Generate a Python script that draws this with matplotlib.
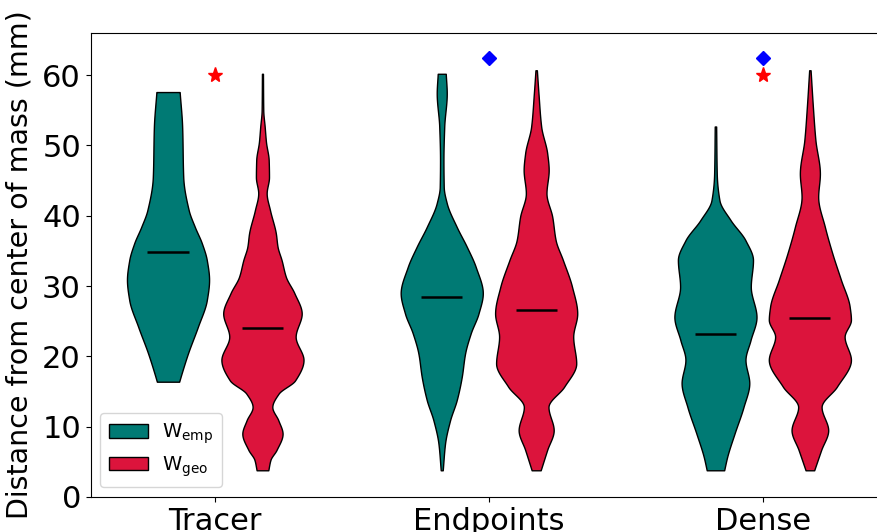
import numpy as np
import matplotlib
matplotlib.use("Agg")
import matplotlib.pyplot as plt
from matplotlib.patches import Patch

categories = ["Tracer", "Endpoints", "Dense"]
series_labels = [r"W$_{\mathrm{emp}}$", r"W$_{\mathrm{geo}}$"]
colors = ["#007a74", "#dc143c"]

# Violin profiles: y value (mm) and relative density
tracer_emp_y = [16.4, 17.6, 20.4, 24.2, 28.0, 30.9, 33.7, 36.1, 38.4, 40.8, 45.5, 52.7, 57.6]
tracer_emp_d = [11.2, 13.7, 20.0, 30.0, 39.0, 41.3, 39.0, 34.0, 27.0, 20.8, 15.3, 14.2, 11.7]
tracer_emp_med = 34.8

tracer_geo_y = [3.8, 5.3, 6.7, 9.0, 10.9, 12.8, 14.7, 16.6, 19.5, 22.8, 26.1, 29.0, 31.3,
                33.7, 35.6, 37.5, 40.8, 43.2, 45.5, 47.9, 50.5, 52.7, 55.0, 60.2]
tracer_geo_d = [5.8, 8.0, 14.0, 20.0, 15.8, 9.8, 16.0, 32.5, 40.8, 33.0, 39.0, 31.7, 23.3,
                19.0, 15.0, 13.3, 7.5, 4.2, 6.5, 6.2, 3.5, 2.2, 0.8, 0.5]
tracer_geo_med = 24.0

endp_emp_y = [3.8, 7.6, 10.9, 13.8, 17.1, 20.4, 23.3, 26.1, 29.0, 32.7, 35.6, 38.4, 41.8,
              44.1, 47.9, 52.7, 57.4, 60.2]
endp_emp_d = [1.0, 3.3, 8.3, 15.0, 20.0, 23.3, 29.0, 36.7, 41.0, 34.0, 25.0, 15.0, 5.0,
              2.0, 1.7, 2.5, 5.0, 4.0]
endp_emp_med = 28.4

endp_geo_y = [3.8, 6.7, 9.5, 12.8, 15.7, 19.0, 22.8, 26.1, 29.9, 33.7, 36.5, 39.9, 43.2,
              46.5, 48.9, 52.7, 57.4, 60.7]
endp_geo_d = [4.5, 11.0, 17.5, 12.3, 28.0, 40.0, 37.0, 41.0, 35.8, 26.7, 19.5, 16.0, 10.3,
              12.5, 11.0, 5.0, 2.3, 0.7]
endp_geo_med = 26.6

dense_emp_y = [3.8, 5.7, 9.0, 12.8, 16.2, 19.5, 22.3, 25.6, 29.9, 33.7, 36.5, 39.4, 42.2,
               46.0, 52.7]
dense_emp_d = [8.7, 11.7, 19.0, 28.0, 33.8, 30.0, 35.0, 41.0, 35.3, 37.5, 30.0, 15.0, 4.0,
               1.3, 0.7]
dense_emp_med = 23.2

dense_geo_y = [3.8, 6.7, 9.5, 12.8, 15.7, 19.5, 22.8, 25.2, 27.1, 30.9, 34.6, 38.4, 42.7,
               46.0, 50.8, 55.5, 60.7]
dense_geo_d = [4.3, 11.3, 18.3, 11.7, 27.0, 41.0, 34.7, 41.0, 39.7, 31.0, 22.5, 15.0, 8.3,
               10.0, 5.5, 3.0, 0.7]
dense_geo_med = 25.5

star_y = [60.0, None, 60.0]
diamond_y = [None, 62.5, 62.5]

profiles = [
    [(tracer_emp_y, tracer_emp_d, tracer_emp_med), (tracer_geo_y, tracer_geo_d, tracer_geo_med)],
    [(endp_emp_y, endp_emp_d, endp_emp_med), (endp_geo_y, endp_geo_d, endp_geo_med)],
    [(dense_emp_y, dense_emp_d, dense_emp_med), (dense_geo_y, dense_geo_d, dense_geo_med)],
]


def pchip(x, y, xn):
    """Monotone piecewise cubic Hermite interpolation (shape-preserving)."""
    x = np.asarray(x, float)
    y = np.asarray(y, float)
    h = np.diff(x)
    delta = np.diff(y) / h
    n = len(x)
    m = np.zeros(n)
    for k in range(1, n - 1):
        if delta[k - 1] * delta[k] <= 0:
            m[k] = 0.0
        else:
            w1 = 2 * h[k] + h[k - 1]
            w2 = h[k] + 2 * h[k - 1]
            m[k] = (w1 + w2) / (w1 / delta[k - 1] + w2 / delta[k])
    m[0] = delta[0]
    m[-1] = delta[-1]
    idx = np.clip(np.searchsorted(x, xn) - 1, 0, n - 2)
    t = (xn - x[idx]) / h[idx]
    h00 = 2 * t**3 - 3 * t**2 + 1
    h10 = t**3 - 2 * t**2 + t
    h01 = -2 * t**3 + 3 * t**2
    h11 = t**3 - t**2
    return h00 * y[idx] + h10 * h[idx] * m[idx] + h01 * y[idx + 1] + h11 * h[idx] * m[idx + 1]


fig = plt.figure(figsize=(8.78, 5.32), dpi=100)
ax = fig.add_axes([90.7 / 878, 35 / 532, 796.5 / 878, 464 / 532])

offset = 0.1725
width = 0.3
for i, cat in enumerate(categories):
    base = i + 1
    for j, (ys, ds, med) in enumerate(profiles[i]):
        pos = base - offset if j == 0 else base + offset
        ys_a = np.array(ys, dtype=float)
        ds_a = np.array(ds, dtype=float)
        fine = np.linspace(ys_a[0], ys_a[-1], 400)
        vals = np.maximum(pchip(ys_a, ds_a, fine), 0.2)
        stats = [dict(coords=fine, vals=vals, mean=np.mean(ys_a), median=med,
                      min=ys_a[0], max=ys_a[-1])]
        parts = ax.violin(stats, positions=[pos], widths=width,
                          showmeans=False, showextrema=False, showmedians=True)
        for b in parts["bodies"]:
            b.set_facecolor(colors[j])
            b.set_edgecolor("black")
            b.set_linewidth(1.0)
            b.set_alpha(1)
        parts["cmedians"].set_color("black")
        parts["cmedians"].set_linewidth(1.8)

for i in range(3):
    if star_y[i] is not None:
        ax.plot(i + 1, star_y[i], marker="*", color="red", ms=11, linestyle="none")
    if diamond_y[i] is not None:
        ax.plot(i + 1, diamond_y[i], marker="D", color="blue", ms=7, linestyle="none")

ax.set_xlim(0.545, 3.455)
ax.set_ylim(0, 66)
ax.set_xticks([1, 2, 3])
ax.set_xticklabels(categories, fontsize=22)
ax.set_yticks([0, 10, 20, 30, 40, 50, 60])
ax.tick_params(axis="y", labelsize=22)
ax.set_ylabel("Distance from center of mass (mm)", fontsize=20.5, labelpad=6)

handles = [Patch(facecolor=colors[0], edgecolor="black", label=series_labels[0]),
           Patch(facecolor=colors[1], edgecolor="black", label=series_labels[1])]
ax.legend(handles=handles, loc="lower left", fontsize=14, handlelength=2.0,
          handletextpad=0.7, borderpad=0.45, labelspacing=0.4)

fig.savefig("out.png", dpi=100)
